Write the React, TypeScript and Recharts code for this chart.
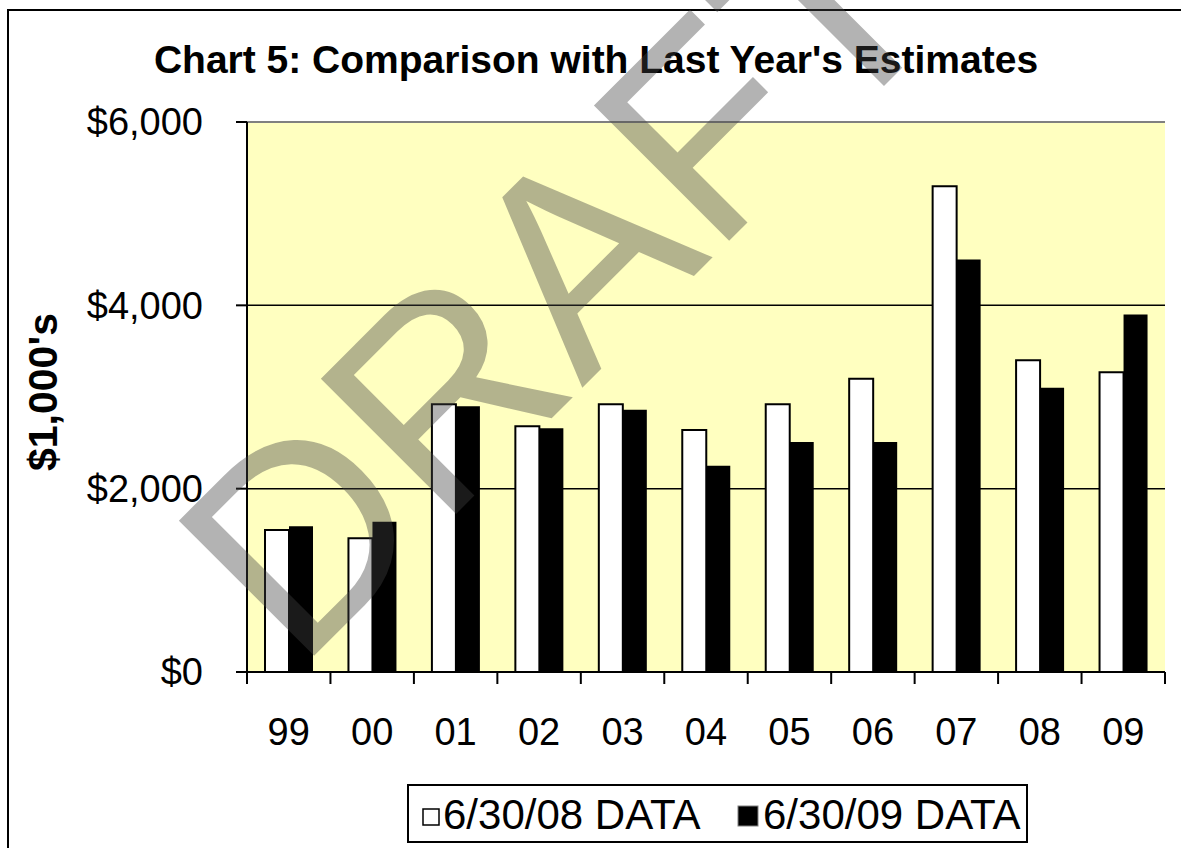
import React from 'react';
import { BarChart, Bar, XAxis, YAxis, CartesianGrid, ReferenceLine } from 'recharts';

const categories = ['99', '00', '01', '02', '03', '04', '05', '06', '07', '08', '09'];
const data2008 = [1550, 1460, 2920, 2680, 2920, 2640, 2920, 3200, 5300, 3400, 3270];
const data2009 = [1590, 1640, 2900, 2660, 2860, 2250, 2510, 2510, 4500, 3100, 3900];
const yTicks = [0, 2000, 4000, 6000];
const seriesNames = ['6/30/08 DATA', '6/30/09 DATA'];
const titleText = "Chart 5: Comparison with Last Year's Estimates";
const yLabelText = "$1,000's";
const watermarkText = 'DRAFT';

const data = categories.map((c, i) => ({ cat: c, a: data2008[i], b: data2009[i] }));

const FONT = '"Liberation Sans", Arial, Helvetica, sans-serif';

function CategoryTick(props: any) {
  const { x, y, payload, index, visibleTicksCount, width } = props;
  const half =
    payload && payload.offset && payload.offset > 0
      ? payload.offset
      : Number(width) / Number(visibleTicksCount) / 2;
  const isLast = index === visibleTicksCount - 1;
  return (
    <g>
      <line x1={x - half} y1={y} x2={x - half} y2={y + 12} stroke="#000" strokeWidth={2} />
      {isLast && (
        <line x1={x + half} y1={y} x2={x + half} y2={y + 12} stroke="#000" strokeWidth={2} />
      )}
      <text x={x} y={y + 73} textAnchor="middle" fill="#000" fontSize={38} fontFamily={FONT}>
        {payload.value}
      </text>
    </g>
  );
}

export default function App() {
  return (
    <div
      style={{
        position: 'absolute',
        left: 0,
        top: 0,
        width: 1181,
        height: 848,
        overflow: 'hidden',
        background: '#fff',
        fontFamily: FONT,
      }}
    >
      <div
        style={{
          position: 'absolute',
          left: 7,
          top: 9,
          width: 1200,
          height: 900,
          border: '2px solid #000',
        }}
      />
      <div style={{ position: 'absolute', left: 0, top: 0 }}>
        <BarChart
          width={1181}
          height={848}
          data={data}
          margin={{ top: 122, right: 16, bottom: 84, left: 0 }}
          barGap={0}
          barSize={24}
        >
          <CartesianGrid
            vertical={false}
            horizontal
            stroke="#000"
            strokeWidth={1.5}
            fill="#FFFFC0"
            fillOpacity={1}
            strokeOpacity={1}
          />
          <ReferenceLine y={6000} stroke="#808080" strokeWidth={2} />
          <XAxis
            dataKey="cat"
            interval={0}
            tickLine={false}
            tickSize={0}
            tickMargin={0}
            height={92}
            axisLine={{ stroke: '#000', strokeWidth: 2 }}
            tick={<CategoryTick />}
          />
          <YAxis
            domain={[0, 6000]}
            ticks={yTicks}
            interval={0}
            width={247}
            tickSize={11}
            tickMargin={33}
            tickFormatter={(v: number) => '$' + v.toLocaleString('en-US')}
            axisLine={{ stroke: '#000', strokeWidth: 2 }}
            tickLine={{ stroke: '#000', strokeWidth: 2 }}
            tick={{ fill: '#000', fontSize: 38, fontFamily: FONT }}
          />
          <YAxis
            yAxisId="r"
            orientation="right"
            domain={[0, 6000]}
            width={0}
            tick={false}
            tickLine={false}
            axisLine={{ stroke: '#808080', strokeWidth: 2 }}
          />
          <Bar
            dataKey="a"
            name={seriesNames[0]}
            fill="#fff"
            stroke="#000"
            strokeWidth={2}
            isAnimationActive={false}
          />
          <Bar dataKey="b" name={seriesNames[1]} fill="#000" isAnimationActive={false} />
        </BarChart>
      </div>
      <svg
        width={1181}
        height={848}
        style={{ position: 'absolute', left: 0, top: 0, pointerEvents: 'none' }}
      >
        <text
          x={596}
          y={73}
          textAnchor="middle"
          fontFamily={FONT}
          fontWeight="bold"
          fontSize={39}
          fill="#000"
        >
          {titleText}
        </text>
        <text
          x={43}
          y={392}
          textAnchor="middle"
          dominantBaseline="central"
          transform="rotate(-90 43 392)"
          fontFamily={FONT}
          fontWeight="bold"
          fontSize={41}
          fill="#000"
        >
          {yLabelText}
        </text>
        <rect x={408} y={785} width={619} height={57} fill="#fff" stroke="#000" strokeWidth={2} />
        <rect x={423} y={809} width={16} height={16} fill="#fff" stroke="#000" strokeWidth={1.5} />
        <text x={443} y={829} fontFamily={FONT} fontSize={42} fill="#000">
          {seriesNames[0]}
        </text>
        <rect x={738} y={806} width={20} height={20} fill="#000" stroke="#808080" strokeWidth={1} />
        <text x={763} y={829} fontFamily={FONT} fontSize={42} fill="#000">
          {seriesNames[1]}
        </text>
        <text
          x={298}
          y={672}
          transform="rotate(-45 298 672)"
          fontFamily={FONT}
          fontSize={278}
          fill="#404040"
          fillOpacity={0.4}
        >
          {watermarkText}
        </text>
      </svg>
    </div>
  );
}
